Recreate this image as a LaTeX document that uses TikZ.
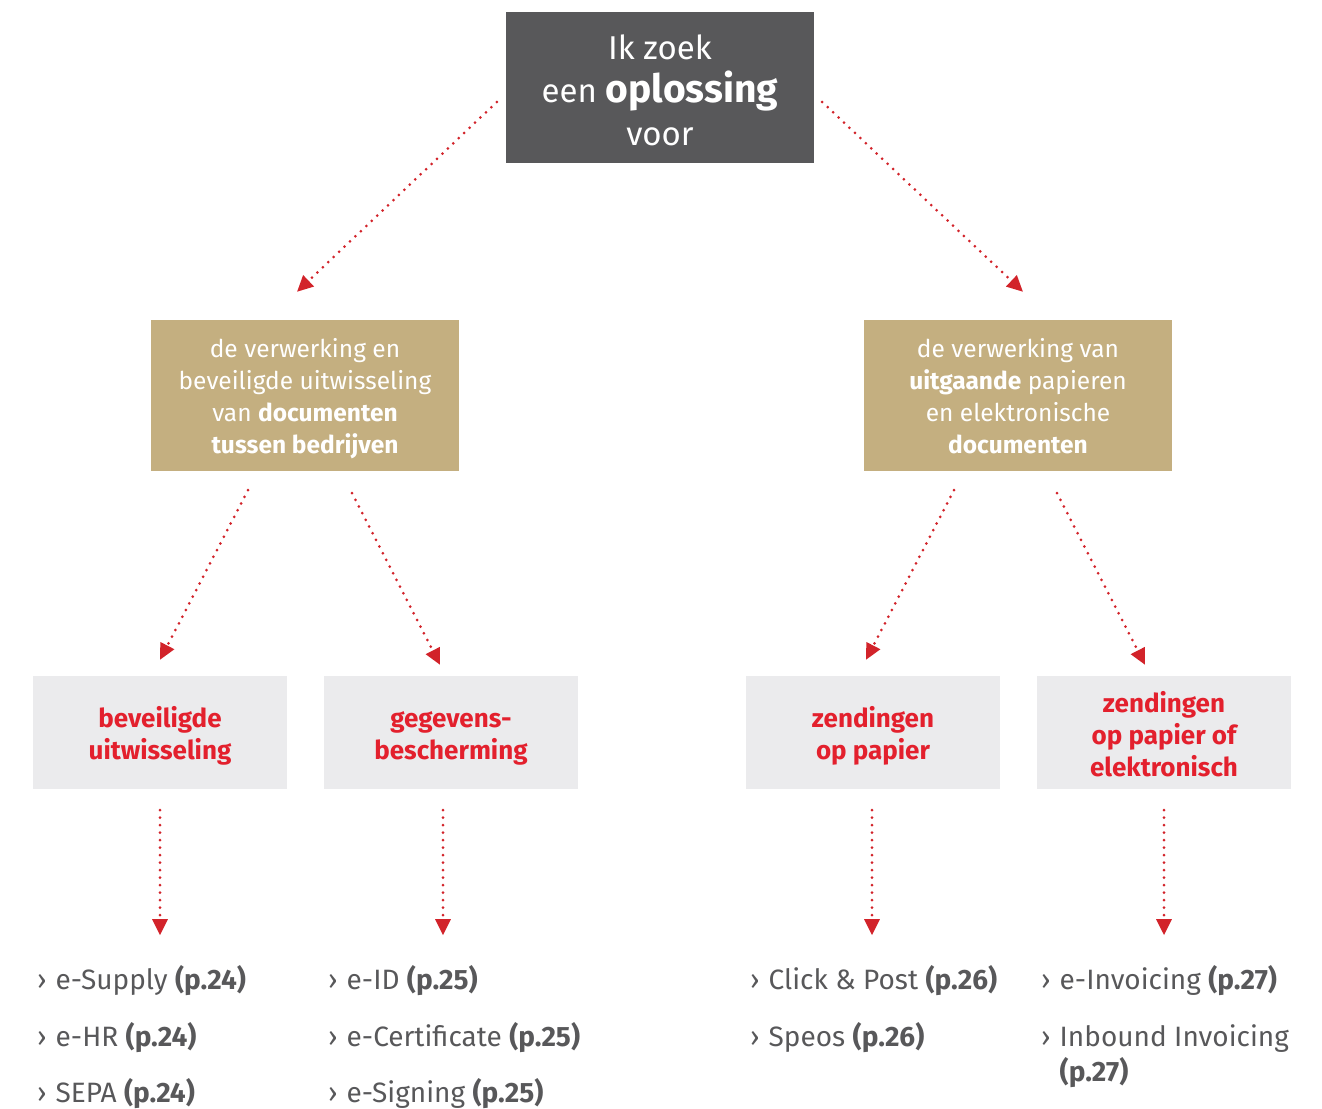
\documentclass[tikz,border=0pt]{standalone}
\usepackage{fontspec}
\setmainfont{Fira Sans}
\usetikzlibrary{arrows.meta,positioning}

\definecolor{slate}{HTML}{58585A}
\definecolor{sand}{HTML}{C4AF80}
\definecolor{mist}{HTML}{EBEBED}
\definecolor{signal}{HTML}{E3202D}
\definecolor{arrowred}{HTML}{D2232A}

\newcommand{\bullit}{›\hspace{9pt}}

\begin{document}
\begin{tikzpicture}[x=1pt,y=-1pt,
  topbox/.style={fill=slate,text=white,minimum width=308pt,minimum height=151pt,
    align=center,inner sep=0pt,font=\fontsize{33}{43}\selectfont},
  themebox/.style={fill=sand,text=white,minimum width=308pt,minimum height=151pt,
    align=center,inner sep=0pt,font=\fontsize{24.5}{32}\selectfont},
  choicebox/.style={fill=mist,text=signal,minimum width=254pt,minimum height=113pt,
    align=center,inner sep=0pt,font=\bfseries\fontsize{26}{32}\selectfont},
  entry/.style={anchor=base west,align=left,inner sep=0pt,text=slate,
    font=\fontsize{28}{35}\selectfont},
  link/.style={draw=arrowred,line width=3pt,line cap=round,dash pattern=on 0pt off 7.5pt,
    -{Triangle[length=16pt,width=15pt,fill=arrowred]}}
]
\useasboundingbox (0,0) rectangle (1322,1108);

% vraag en thema's
\node[topbox] (quest) at (660,87.5) {\rule{0pt}{30pt}Ik zoek\\een {\fontsize{39}{43}\selectfont\bfseries oplossing}\\voor};
\node[themebox] (b2b) at (305,395.5) {\rule{0pt}{25pt}de verwerking en\\beveiligde uitwisseling\\van \textbf{documenten}\\\textbf{tussen bedrijven}};
\node[themebox] (outgoing) at (1018,395.5) {\rule{0pt}{21pt}de verwerking van\\\textbf{uitgaande} papieren\\en elektronische\\\textbf{documenten}};

% keuzes
\node[choicebox] (exchange) at (160,732.5) {\rule{0pt}{28pt}beveiligde\\uitwisseling};
\node[choicebox] (privacy) at (451,732.5) {\rule{0pt}{28pt}gegevens-\\bescherming};
\node[choicebox] (paper) at (873,732.5) {\rule{0pt}{28pt}zendingen\\op papier};
\node[choicebox] (hybrid) at (1164,732.5) {\rule{0pt}{24pt}zendingen\\op papier of\\elektronisch};

% oplossingen
\node[entry] (supply) at (37,989) {\bullit e-Supply \textbf{(p.24)}};
\node[entry] (ehr) at (37,1046) {\bullit e-HR \textbf{(p.24)}};
\node[entry] (sepa) at (37,1102) {\bullit SEPA \textbf{(p.24)}};
\node[entry] (eid) at (328,989) {\bullit e-ID \textbf{(p.25)}};
\node[entry] (ecert) at (328,1046) {\bullit e-Certificate \textbf{(p.25)}};
\node[entry] (esign) at (328,1102) {\bullit e-Signing \textbf{(p.25)}};
\node[entry] (click) at (750,989) {\bullit Click \& Post \textbf{(p.26)}};
\node[entry] (speos) at (750,1046) {\bullit Speos \textbf{(p.26)}};
\node[entry] (einv) at (1041,989) {\bullit e-Invoicing \textbf{(p.27)}};
\node[entry] (inbound) at (1041,1081) {\bullit Inbound Invoicing\\\hphantom{\bullit}\textbf{(p.27)}};

% pijlen
\draw[link] ([shift={(-9,14.5)}]quest.west) -- ([shift={(-8,-28)}]b2b.north);
\draw[link] ([shift={(8,14.5)}]quest.east) -- ([shift={(5,-28)}]outgoing.north);
\draw[link] ([shift={(-57,19)}]b2b.south) -- ([shift={(0,-16)}]exchange.north);
\draw[link] ([shift={(47,22)}]b2b.south) -- ([shift={(-11,-11)}]privacy.north);
\draw[link] ([shift={(-64,19)}]outgoing.south) -- ([shift={(-7,-16)}]paper.north);
\draw[link] ([shift={(39,22)}]outgoing.south) -- ([shift={(-19,-11)}]hybrid.north);
\draw[link] ([shift={(0,21)}]exchange.south) -- ([shift={(0,146)}]exchange.south);
\draw[link] ([shift={(-8,21)}]privacy.south) -- ([shift={(-8,146)}]privacy.south);
\draw[link] ([shift={(-1,21)}]paper.south) -- ([shift={(-1,146)}]paper.south);
\draw[link] ([shift={(0,21)}]hybrid.south) -- ([shift={(0,146)}]hybrid.south);
\end{tikzpicture}
\end{document}
